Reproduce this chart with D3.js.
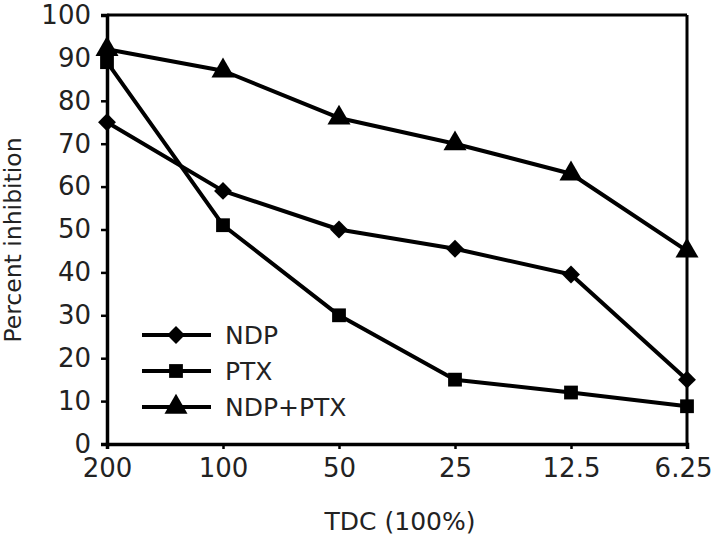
<!DOCTYPE html>
<html><head><meta charset="utf-8">
<script src="https://cdn.jsdelivr.net/npm/d3@7"></script>
<style>body{margin:0;background:#fff}svg{display:block}text{font-family:"DejaVu Sans",Verdana,sans-serif;fill:#222}</style>
</head><body><svg id="c" width="714" height="538"></svg>
<script>
const categories = ["200","100","50","25","12.5","6.25"];
const ndp = [75, 59, 50, 45.5, 39.5, 15];
const ptx = [89, 51, 30, 15, 12, 8.8];
const ndpPtx = [92, 87, 76, 70, 63, 45];
const yTicks = [0,10,20,30,40,50,60,70,80,90,100];
const seriesNames = ["NDP","PTX","NDP+PTX"];

const svg = d3.select("#c");
const L=107, R=687, T=15, B=444;
const x = d3.scalePoint().domain(categories).range([L,R]).padding(0);
const y = d3.scaleLinear().domain([0,100]).range([B,T]);
const fontFam = "'DejaVu Sans',Verdana,sans-serif";

// box top/right
svg.append("line").attr("x1",L).attr("x2",R).attr("y1",T).attr("y2",T).attr("stroke","#000").attr("stroke-width",3);
svg.append("line").attr("x1",R).attr("x2",R).attr("y1",T).attr("y2",B).attr("stroke","#000").attr("stroke-width",3);

const yAx = svg.append("g").attr("transform",`translate(${L},0)`)
  .call(d3.axisLeft(y).tickValues(yTicks).tickSize(6).tickPadding(10));
const xAx = svg.append("g").attr("transform",`translate(0,${B})`)
  .call(d3.axisBottom(x).tickSize(5).tickPadding(10));
[yAx,xAx].forEach(g=>{
  g.select(".domain").attr("stroke","#000").attr("stroke-width",3.5);
  g.selectAll(".tick line").attr("stroke","#000").attr("stroke-width",2.5);
  g.selectAll(".tick text").style("font-size","26px").style("font-family",fontFam).attr("fill","#222");
});
// keep last x label inside the page
xAx.selectAll(".tick text").filter(d=>d===categories[categories.length-1]).attr("text-anchor","end").attr("x",25);

const line = d3.line().x((d,i)=>x(categories[i])).y(d=>y(d));
const data = [ndp, ptx, ndpPtx];
const shapes = [d3.symbolSquare, d3.symbolSquare, d3.symbolTriangle];
const sizes = [160, 190, 230];
const rot = [45, 0, 0];
data.forEach((s,k)=>{
  svg.append("path").datum(s).attr("d",line).attr("fill","none").attr("stroke","#000").attr("stroke-width",4).attr("stroke-linejoin","round");
});
data.forEach((s,k)=>{
  svg.selectAll(null).data(s).enter().append("path")
    .attr("d", d3.symbol().type(shapes[k]).size(sizes[k]))
    .attr("transform",(d,i)=>`translate(${x(categories[i])},${y(d)}) rotate(${rot[k]})`)
    .attr("fill","#000");
});

// legend
const ly = [335, 371, 407];
seriesNames.forEach((n,k)=>{
  svg.append("line").attr("x1",142).attr("x2",211).attr("y1",ly[k]).attr("y2",ly[k]).attr("stroke","#000").attr("stroke-width",4);
  svg.append("path").attr("d", d3.symbol().type(shapes[k]).size(sizes[k]))
    .attr("transform",`translate(176,${ly[k]}) rotate(${rot[k]})`).attr("fill","#000");
  svg.append("text").attr("x",225).attr("y",ly[k]).attr("dy","0.36em").style("font-size","25px").text(n);
});

svg.append("text").attr("x",400).attr("y",530).attr("text-anchor","middle").style("font-size","25px").text("TDC (100%)");
svg.append("text").attr("transform","translate(21,240) rotate(-90)").attr("text-anchor","middle").style("font-size","23.5px").text("Percent inhibition");
</script></body></html>
